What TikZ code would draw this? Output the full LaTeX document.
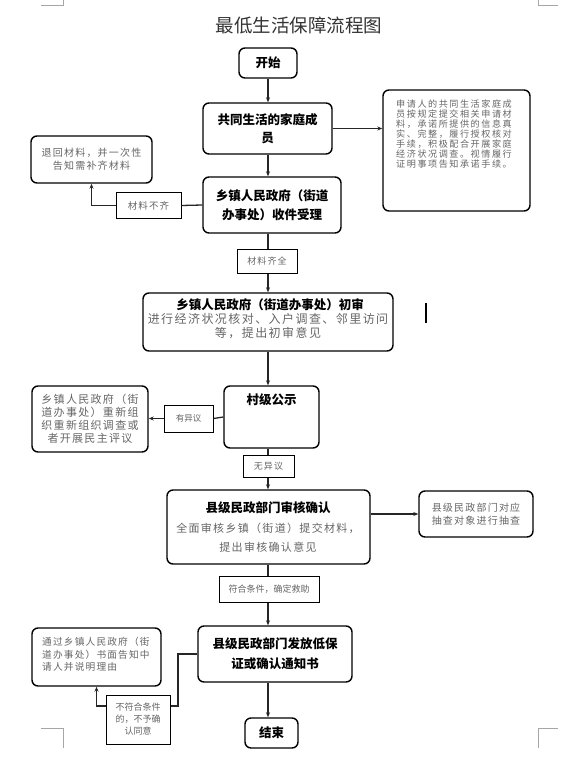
\documentclass[tikz,border=0pt]{standalone}
\usepackage{fontspec}
\setmainfont{Noto Sans CJK SC}
\newfontfamily\gsp[LetterSpace=12]{Noto Sans CJK SC}
\newfontfamily\gspw[LetterSpace=17]{Noto Sans CJK SC}
\usetikzlibrary{arrows.meta,calc}
\begin{document}
\begin{tikzpicture}[x=1pt,y=-1pt,
  rbox/.style={draw=black, line width=1.4pt, rounded corners=6pt, inner sep=0pt},
  lbl/.style={draw=black, line width=1pt, inner sep=0pt},
  conn/.style={line width=1.3pt, draw=black!85},
  arr/.style={conn, -{Stealth[length=5pt,width=4pt]}},
  bt/.style={font=\bfseries\fontsize{12.5}{19}\selectfont, align=center, inner sep=0pt},
  gt/.style={text=black!60, align=center, inner sep=0pt},
  cropm/.style={draw=black!35, line width=0.6pt}]
\useasboundingbox (0,0) rectangle (579,759);
\fill[white] (0,0) rectangle (579,759);

% crop marks
\draw[cropm] (41,5) -- (63,5) -- (63,0);
\draw[cropm] (558,5) -- (538,5) -- (538,0);
\draw[cropm] (41,728) -- (63,728) -- (63,748);
\draw[cropm] (558,728) -- (538,728) -- (538,748);

% title
\node[inner sep=0pt, text=black!80, font=\fontsize{18.5}{20}\selectfont] (title) at (299,25) {最低生活保障流程图};

% boxes
\node[rbox, bt, minimum width=58pt, minimum height=30pt] (start) at (268,63) {开始};
\node[rbox, bt, minimum width=129pt, minimum height=51pt, font=\bfseries\fontsize{12.5}{18}\selectfont] (b2) at (267.5,128.5) {共同生活的家庭成\\员};
\node[rbox, minimum width=147pt, minimum height=121pt] (rb1) at (456.5,150.5) {};
\node[gt, align=left, anchor=west, font=\gspw\fontsize{9.1}{9.9}\selectfont] (rb1t) at (396,134) {申请人的共同生活家庭成\\员按规定提交相关申请材\\料，承诺所提供的信息真\\实、完整，履行授权核对\\手续，积极配合开展家庭\\经济状况调查。视情履行\\证明事项告知承诺手续。};

\node[rbox, gt, minimum width=121pt, minimum height=47pt, font=\gsp\fontsize{10}{13}\selectfont] (lb1) at (91.5,159.5) {退回材料，并一次性\\告知需补齐材料};
\node[lbl, gt, minimum width=65pt, minimum height=25pt, font=\gsp\fontsize{9.5}{11}\selectfont] (l1) at (148.5,205.5) {材料不齐};
\node[rbox, bt, minimum width=138pt, minimum height=56pt] (b3) at (272,205) {乡镇人民政府（街道\\办事处）收件受理};
\node[lbl, gt, minimum width=60pt, minimum height=24pt, font=\gsp\fontsize{9}{11}\selectfont] (l2) at (267,261) {材料齐全};

\node[rbox, minimum width=250pt, minimum height=58pt] (b4) at (268,322) {};
\node[bt] (b4t) at (270,305) {乡镇人民政府（街道办事处）初审};
\node[gt, font=\gsp\fontsize{12}{13.5}\selectfont] (b4g) at (268,326) {进行经济状况核对、入户调查、邻里访问\\等，提出初审意见};
\draw[line width=1.8pt] (426,303) -- (426,323);

\node[rbox, minimum width=95pt, minimum height=62pt] (b5) at (271.5,417) {};
\node[bt] (b5t) at (271.5,400) {村级公示};
\node[rbox, gt, minimum width=116pt, minimum height=66pt, font=\gsp\fontsize{11}{13}\selectfont] (lb2) at (90,419) {乡镇人民政府（街\\道办事处）重新组\\织重新组织调查或\\者开展民主评议};
\node[lbl, gt, minimum width=49pt, minimum height=27pt, font=\fontsize{8.5}{10}\selectfont] (l3) at (188.5,418.5) {有异议};
\node[lbl, gt, minimum width=51pt, minimum height=22pt, font=\gsp\fontsize{9}{10}\selectfont] (l4) at (268.5,466) {无异议};

\node[rbox, minimum width=203pt, minimum height=74pt] (b6) at (268.5,527) {};
\node[bt] (b6t) at (268,508) {县级民政部门审核确认};
\node[gt, font=\gsp\fontsize{11}{19.5}\selectfont] (b6g) at (268,537.5) {全面审核乡镇（街道）提交材料，\\提出审核确认意见};
\node[rbox, gt, minimum width=114pt, minimum height=46pt, font=\gsp\fontsize{10}{13}\selectfont] (rb2) at (476,514) {县级民政部门对应\\抽查对象进行抽查};
\node[lbl, gt, minimum width=100pt, minimum height=26pt, font=\fontsize{9}{10}\selectfont] (l5) at (269,589) {符合条件，确定救助};

\node[rbox, bt, minimum width=154pt, minimum height=56pt, font=\bfseries\fontsize{12.5}{20}\selectfont] (b7) at (275,654) {县级民政部门发放低保\\证或确认通知书};
\node[rbox, minimum width=129pt, minimum height=58pt] (lb3) at (96.5,657) {};
\node[gt, align=left, anchor=west, font=\gsp\fontsize{9.7}{12.5}\selectfont] (lb3t) at (42,654.5) {通过乡镇人民政府（街\\道办事处）书面告知中\\请人并说明理由};
\node[lbl, gt, minimum width=64pt, minimum height=49pt, font=\fontsize{9}{12}\selectfont] (l6) at (138,719.5) {不符合条件\\的，不予确\\认同意};
\node[rbox, bt, minimum width=53pt, minimum height=30pt] (end) at (271.5,733) {结束};

% connectors
\coordinate (ax) at (268,0);
\draw[arr] (start.south -| ax) -- (b2.north -| ax);
\draw[arr] (b2.east) -- (b2.east -| rb1.west);
\draw[arr] (b2.south -| ax) -- (b3.north -| ax);
\draw[conn] (b3.west) -- (l1.east);
\draw[arr] (l1.west) -| (lb1.south);
\draw[conn] (b3.south -| ax) -- (l2.north -| ax);
\draw[arr] (l2.south -| ax) -- (b4.north -| ax);
\draw[arr] (b4.south -| ax) -- (b5.north -| ax);
\draw[conn] (b5.west) -- (l3.east);
\draw[arr] (l3.west) -- (l3.west -| lb2.east);
\draw[conn] (b5.south -| ax) -- (l4.north -| ax);
\draw[arr] (l4.south -| ax) -- (b6.north -| ax);
\draw[arr] (rb2.west -| b6.east) -- (rb2.west);
\draw[conn] (b6.south -| ax) -- (l5.north -| ax);
\draw[arr] (l5.south -| ax) -- (b7.north -| ax);
\coordinate (k1) at (178,706);
\draw[conn] (b7.west) -| (k1) -- (k1 -| l6.east);
\draw[arr] (k1 -| l6.west) -| (lb3.south);
\draw[arr] (b7.south -| ax) -- (end.north -| ax);
\end{tikzpicture}
\end{document}
